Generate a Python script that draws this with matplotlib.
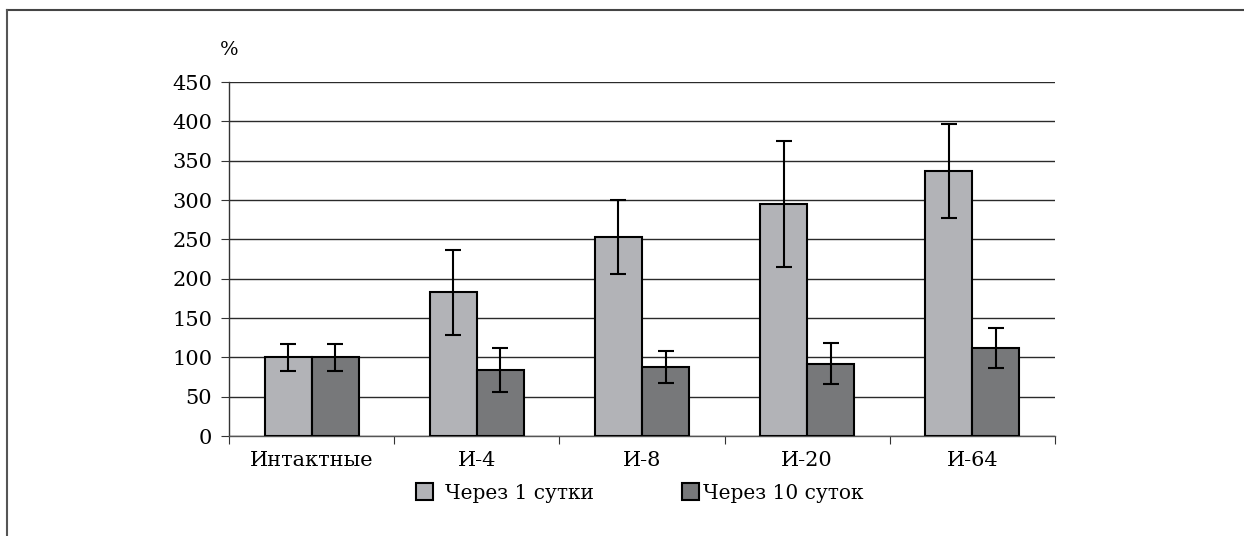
import matplotlib
matplotlib.use("Agg")
import matplotlib.pyplot as plt
import numpy as np
from matplotlib.lines import Line2D

categories = ["Интактные", "И-4", "И-8", "И-20", "И-64"]
series_names = ["Через 1 сутки", "Через 10 суток"]
day1 = [100, 183, 253, 295, 337]
day1_err = [17, 54, 47, 80, 60]
day10 = [100, 84, 88, 92, 112]
day10_err = [17, 28, 20, 26, 25]
yticks = [0, 50, 100, 150, 200, 250, 300, 350, 400, 450]

plt.rcParams['font.family'] = ['DejaVu Serif']

W, H = 1244, 536
fig = plt.figure(figsize=(W / 100, H / 100), dpi=100)
ax = fig.add_axes([229 / W, 1 - 436 / H, 826 / W, 354 / H])

x = np.arange(len(categories))
w = 0.285
ekw = dict(ecolor='black', elinewidth=1.5, capsize=6, capthick=1.5)
b1 = ax.bar(x - w/2, day1, w, yerr=day1_err, color='#b2b3b7', edgecolor='black',
            linewidth=1.5, error_kw=ekw, label=series_names[0], zorder=3)
b2 = ax.bar(x + w/2, day10, w, yerr=day10_err, color='#77787a', edgecolor='black',
            linewidth=1.5, error_kw=ekw, label=series_names[1], zorder=3)

ax.set_xlim(-0.5, len(categories) - 0.5)
ax.set_ylim(0, 450)
ax.set_yticks(yticks)
ax.yaxis.grid(True, color='#2a2a2a', linewidth=1, zorder=0)
ax.set_axisbelow(True)
for s in ['top', 'right']:
    ax.spines[s].set_visible(False)
ax.spines['left'].set_color('#333333')
ax.spines['bottom'].set_color('#555555')
ax.spines['left'].set_linewidth(1)
ax.spines['bottom'].set_linewidth(1)

ax.set_xticks(np.arange(len(categories) + 1) - 0.5)
ax.set_xticklabels([])
ax.set_xticks(x, minor=True)
ax.set_xticklabels(categories, minor=True, fontsize=15)
ax.tick_params(axis='x', which='minor', length=0, pad=11)
ax.tick_params(axis='x', which='major', length=6, direction='out', color='#333333')
ax.tick_params(axis='y', length=6, direction='out', labelsize=15, color='#333333', pad=6)

ax.text(-0.011, 1.09, "%", transform=ax.transAxes, fontsize=14, ha='left', va='center')

common = dict(frameon=False, fontsize=14.5, handlelength=0.85, handleheight=0.85,
              borderpad=0, borderaxespad=0, loc='center left')
leg1 = fig.legend(handles=[b1], labels=[series_names[0]],
                  bbox_to_anchor=(416 / W, 1 - 493 / H), handletextpad=0.6, **common)
leg2 = fig.legend(handles=[b2], labels=[series_names[1]],
                  bbox_to_anchor=(682 / W, 1 - 493 / H), handletextpad=0.2, **common)

fig.add_artist(Line2D([7 / W, 1], [1 - 10 / H, 1 - 10 / H], color='#444444', linewidth=1.5,
                      transform=fig.transFigure))
fig.add_artist(Line2D([7 / W, 7 / W], [0, 1 - 10 / H], color='#555555', linewidth=1.5,
                      transform=fig.transFigure))

fig.savefig("out.png", dpi=100)
